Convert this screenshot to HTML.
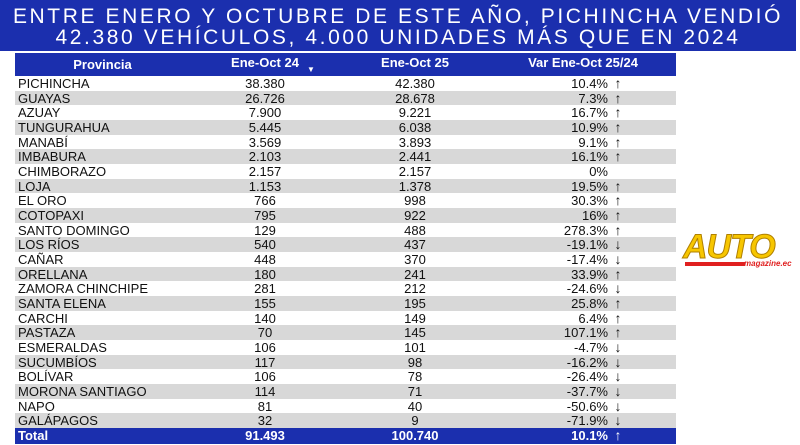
<!DOCTYPE html>
<html><head><meta charset="utf-8"><style>
body{margin:0;width:800px;height:445px;background:#fff;overflow:hidden;font-family:"Liberation Sans","DejaVu Sans",sans-serif;position:relative}
.ban{position:absolute;left:0;top:0;width:796px;height:51px;background:#1b2fae;color:#fff;text-align:center;font-size:21px;line-height:21px;letter-spacing:2.6px;padding-top:6px;box-sizing:border-box;white-space:nowrap}
.r{position:absolute;left:15px;width:661px;height:14.67px;font-size:13px;line-height:15px;color:#111}
.r.g{background:#d8d8d8}
.r span{position:absolute;top:0}
.p{left:3px}
.c1{left:175px;width:150px;text-align:center}
.c2{left:325px;width:150px;text-align:center}
.c3{left:475px;width:118px;text-align:right}
.ar{left:596px;width:14px;text-align:center;font-weight:bold;font-size:14px}
.h{position:absolute;left:15px;top:53px;width:661px;height:23px;background:#1b2fae;color:#fff;font-weight:bold;font-size:13px}
.h span{position:absolute;top:4px}
.t{background:#1b2fae;color:#fff !important;font-weight:bold;height:16px}
.logo{position:absolute;left:683px;top:228px;font:italic 900 34px "Liberation Sans",sans-serif;color:#f7c600;-webkit-text-stroke:1px #b08000;letter-spacing:-1px}
.bar{position:absolute;left:685px;top:262px;width:60px;height:4px;background:#e02020}
.mg{position:absolute;left:744px;top:259px;font:italic bold 8px "Liberation Sans",sans-serif;color:#e02020}
</style></head><body>
<div class="ban">ENTRE ENERO Y OCTUBRE DE ESTE AÑO, PICHINCHA VENDIÓ<br>42.380 VEHÍCULOS, 4.000 UNIDADES MÁS QUE EN 2024</div>
<div class="h"><span style="left:0;width:175px;text-align:center">Provincia</span><span class="c1" style="top:2px">Ene-Oct 24</span><span style="left:292px;top:12px;font-size:8px">▼</span><span class="c2" style="top:2px">Ene-Oct 25</span><span style="left:475px;width:186px;text-align:center;top:2px">Var Ene-Oct 25/24</span></div>
<div id="rows"></div>
<div class="logo">AUTO</div>
<div class="bar"></div>
<div class="mg">magazine.ec</div>
<script>
var d=[["PICHINCHA","38.380","42.380","10.4%","↑"],["GUAYAS","26.726","28.678","7.3%","↑"],["AZUAY","7.900","9.221","16.7%","↑"],["TUNGURAHUA","5.445","6.038","10.9%","↑"],["MANABÍ","3.569","3.893","9.1%","↑"],["IMBABURA","2.103","2.441","16.1%","↑"],["CHIMBORAZO","2.157","2.157","0%",""],["LOJA","1.153","1.378","19.5%","↑"],["EL ORO","766","998","30.3%","↑"],["COTOPAXI","795","922","16%","↑"],["SANTO DOMINGO","129","488","278.3%","↑"],["LOS RÍOS","540","437","-19.1%","↓"],["CAÑAR","448","370","-17.4%","↓"],["ORELLANA","180","241","33.9%","↑"],["ZAMORA CHINCHIPE","281","212","-24.6%","↓"],["SANTA ELENA","155","195","25.8%","↑"],["CARCHI","140","149","6.4%","↑"],["PASTAZA","70","145","107.1%","↑"],["ESMERALDAS","106","101","-4.7%","↓"],["SUCUMBÍOS","117","98","-16.2%","↓"],["BOLÍVAR","106","78","-26.4%","↓"],["MORONA SANTIAGO","114","71","-37.7%","↓"],["NAPO","81","40","-50.6%","↓"],["GALÁPAGOS","32","9","-71.9%","↓"],["Total","91.493","100.740","10.1%","↑"]];
var h="";d.forEach(function(r,i){var top=76+i*14.67;var cls="r"+(i==24?" t":(i%2?" g":""));if(i==24)top=428;
h+='<div class="'+cls+'" style="top:'+top+'px'+(i==24?';color:#fff':'')+'"><span class="p">'+r[0]+'</span><span class="c1">'+r[1]+'</span><span class="c2">'+r[2]+'</span><span class="c3">'+r[3]+'</span><span class="ar">'+r[4]+'</span></div>';});
document.getElementById("rows").innerHTML=h;
</script>
</body></html>
